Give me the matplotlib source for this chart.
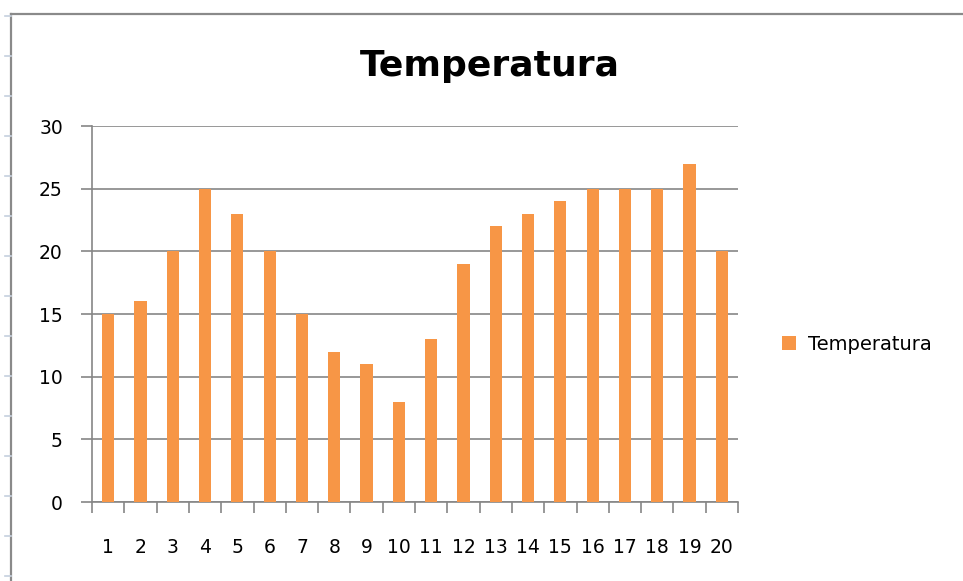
import matplotlib
matplotlib.use("Agg")
import matplotlib.pyplot as plt
from matplotlib.lines import Line2D
import numpy as np

categories = [str(i) for i in range(1, 21)]
temperatura = [15, 16, 20, 25, 23, 20, 15, 12, 11, 8, 13, 19, 22, 23, 24, 25, 25, 25, 27, 20]
yticks = [0, 5, 10, 15, 20, 25, 30]

W, H = 963, 581
fig = plt.figure(figsize=(W / 100, H / 100), dpi=100)
plt.rcParams['font.family'] = ['DejaVu Sans']

def fx(px):
    return px / W

def fy(py):
    return 1 - py / H

# outer chart frame
fig.add_artist(Line2D([fx(11), fx(11)], [fy(14), fy(581)], color='#8a8a8a', lw=1.6, transform=fig.transFigure))
fig.add_artist(Line2D([fx(11), fx(963)], [fy(14), fy(14)], color='#8a8a8a', lw=1.6, transform=fig.transFigure))
# spreadsheet row markers at far left
for yy in range(16, 581, 40):
    fig.add_artist(Line2D([fx(5), fx(11)], [fy(yy), fy(yy)], color='#c5d0de', lw=1.2, transform=fig.transFigure))

ax = fig.add_axes([fx(92), fy(502), fx(738) - fx(92), fy(126) - fy(502)])
x = np.arange(len(categories))
ax.bar(x, temperatura, width=0.38, color='#F79646', label='Temperatura', zorder=3)
ax.set_xlim(-0.5, len(categories) - 0.5)
ax.set_ylim(0, 30)
ax.set_yticks(yticks)
ax.set_yticklabels([str(v) for v in yticks], fontsize=13.5)
ax.yaxis.grid(True, color='#868686', lw=1.2, zorder=0)
for s in ['top', 'right']:
    ax.spines[s].set_visible(False)
ax.spines['left'].set_color('#868686')
ax.spines['bottom'].set_color('#868686')
ax.spines['left'].set_linewidth(1.2)
ax.spines['bottom'].set_linewidth(1.2)
ax.tick_params(axis='y', length=8, width=1.2, color='#868686', pad=13, labelcolor='black')
ax.set_xticks(np.arange(-0.5, len(categories), 1.0))
ax.set_xticklabels([])
ax.set_xticks(x, minor=True)
ax.set_xticklabels(categories, minor=True, fontsize=13.5)
ax.tick_params(axis='x', which='major', length=8, width=1.2, color='#868686', direction='out')
ax.tick_params(axis='x', which='minor', length=0, pad=26, labelcolor='black')

fig.text(fx(490), fy(66), 'Temperatura', ha='center', va='center', fontsize=26, fontweight='bold')
ax.legend(loc='center left', bbox_to_anchor=(fx(764), fy(344)), bbox_transform=fig.transFigure,
          frameon=False, fontsize=14, handlelength=0.75, handleheight=0.75, handletextpad=0.6)

fig.savefig('out.png', dpi=100, facecolor='white')
